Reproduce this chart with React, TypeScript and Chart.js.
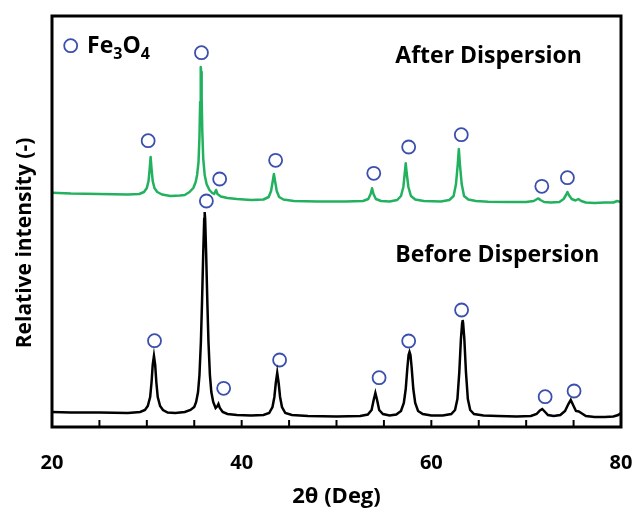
import { useEffect, useRef } from 'react';
import { Chart, registerables } from 'chart.js';

Chart.register(...registerables);

// ---- data: [2θ (deg), intensity (a.u.)] ----
const labeledTicks = [20, 40, 60, 80];

const beforePattern: [number, number][] = [
  [20, 15], [22, 14.5], [25, 14.5], [28, 14], [29.3, 15], [29.8, 17], [30.1, 21], [30.35, 30], [30.5, 45], [30.62, 62], [30.75, 71], [30.88, 62], [31.0, 45], [31.15, 30], [31.4, 21], [31.7, 17], [32.2, 14.5], [33, 14], [34, 15], [34.6, 17],
  [35.0, 20], [35.2, 25], [35.4, 35], [35.55, 52], [35.7, 85], [35.82, 125], [35.95, 175], [36.05, 208], [36.1, 215], [36.15, 208], [36.25, 175], [36.38, 125], [36.5, 85], [36.65, 52], [36.8, 35], [37.0, 25], [37.25, 19], [37.45, 21], [37.55, 23], [37.7, 19], [38.0, 15], [38.5, 13], [39.5, 12], [41, 11.5],
  [42.3, 12], [42.9, 14], [43.25, 20], [43.45, 30], [43.6, 44], [43.75, 54], [43.9, 44], [44.05, 30], [44.25, 20], [44.6, 14], [45.3, 12], [47, 11], [50, 10.5], [52.5, 11],
  [53.3, 12.5], [53.7, 17], [53.92, 27], [54.1, 34], [54.28, 27], [54.5, 17], [54.9, 13], [55.6, 11.5], [56.3, 12.5], [56.8, 16], [57.1, 24], [57.3, 38], [57.48, 60], [57.6, 72], [57.7, 75], [57.8, 72], [57.92, 60], [58.1, 38], [58.3, 24], [58.6, 16], [59.1, 13], [60, 11.5], [61.2, 11.5],
  [62.1, 13], [62.5, 17], [62.75, 28], [62.95, 55], [63.12, 88], [63.25, 104], [63.3, 107], [63.35, 104], [63.48, 88], [63.65, 55], [63.85, 28], [64.1, 17], [64.5, 13], [65.5, 11.5], [67, 11], [69, 10.5], [70.5, 11],
  [71.1, 13], [71.45, 16.5], [71.7, 18], [71.95, 15.5], [72.3, 12], [72.9, 11], [73.6, 12], [74.1, 16], [74.45, 23], [74.7, 27], [74.95, 22], [75.25, 16], [75.55, 15.5], [75.8, 14], [76.3, 11], [77.2, 10], [78.3, 10], [79.2, 10.5], [79.7, 12], [80, 14],
];

const afterPattern: [number, number][] = [
  [20, 234.3], [22, 233.5], [25, 233], [28, 232.5], [29.2, 233], [29.7, 235], [30.0, 239], [30.18, 246], [30.3, 258], [30.4, 270], [30.5, 258], [30.62, 246], [30.8, 239], [31.1, 235], [31.6, 232.5], [32.5, 231], [33.5, 231.5],
  [34.0, 232], [34.5, 235], [34.9, 239], [35.15, 245], [35.3, 252], [35.45, 265], [35.55, 290], [35.62, 325], [35.67, 352], [35.7, 360], [35.73, 355], [35.78, 330], [35.85, 295], [35.95, 268], [36.1, 252], [36.3, 243], [36.6, 237], [36.9, 234], [37.1, 233], [37.3, 237], [37.45, 233], [37.8, 230.5], [38.5, 229], [39.5, 228], [41, 227],
  [42.3, 227.5], [42.85, 230], [43.1, 236], [43.28, 246], [43.4, 253], [43.52, 246], [43.7, 236], [43.95, 230], [44.4, 227.5], [45.5, 226], [48, 225.5], [51, 225.5], [52.8, 226],
  [53.35, 228], [53.6, 233], [53.75, 238.7], [53.9, 233], [54.15, 228], [54.7, 226], [55.6, 225.5], [56.4, 227], [56.8, 231], [57.05, 240], [57.2, 254], [57.3, 263.7], [57.4, 254], [57.58, 240], [57.85, 231], [58.3, 227.5], [59.2, 226], [61, 225.5],
  [61.9, 227], [62.35, 231], [62.6, 243], [62.78, 262], [62.9, 278], [63.02, 262], [63.2, 243], [63.45, 231], [63.9, 227.5], [64.7, 226], [66, 225.3], [68, 225], [70, 225],
  [70.8, 226], [71.15, 228], [71.3, 228.5], [71.5, 227], [71.9, 225], [72.6, 224.5], [73.5, 225], [73.95, 228], [74.2, 232], [74.35, 235], [74.5, 232], [74.8, 228], [75.2, 226.5], [75.5, 228], [75.8, 226], [76.3, 224.5], [77.2, 224], [78.3, 224.5], [79.2, 224.5], [79.6, 226], [80, 225],
];

const afterPeakMarks: [number, number][] = [[30.14, 286.3], [35.76, 374.3], [37.68, 248], [43.58, 266.7], [53.93, 253.7], [57.61, 280], [63.16, 292.3], [71.65, 240.7], [74.35, 249.3]];
const beforePeakMarks: [number, number][] = [[30.81, 86.3], [36.28, 226], [38.1, 38.7], [44.0, 67], [54.49, 49.3], [57.61, 86], [63.19, 117], [72.0, 30.3], [75.05, 36]];
const legendMark: [number, number][] = [[21.97, 381.3]];

const seriesLabels = ['After Dispersion', 'Before Dispersion'];
const xTitle = '2θ (Deg)';
const yTitle = 'Relative intensity (-)';

const FONT = '"Open Sans"';
const GREEN = '#22B15E';
const BLUE = '#3A4FAE';

const toPts = (arr: [number, number][]) => arr.map(([x, y]) => ({ x, y }));

const decorPlugin = {
  id: 'decor',
  afterDraw(chart: any) {
    const { ctx, chartArea: a, scales } = chart;
    const xs = scales.x;
    const ys = scales.y;
    ctx.save();
    // frame
    ctx.strokeStyle = '#000';
    ctx.lineWidth = 3;
    ctx.strokeRect(a.left, a.top, a.right - a.left, a.bottom - a.top);
    // inward ticks
    ctx.lineWidth = 2;
    xs.ticks.forEach((t: any) => {
      const px = xs.getPixelForValue(t.value);
      ctx.beginPath();
      ctx.moveTo(px, a.bottom);
      ctx.lineTo(px, a.bottom - 7);
      ctx.stroke();
    });
    // tick labels and x title
    ctx.fillStyle = '#000';
    ctx.textAlign = 'center';
    ctx.textBaseline = 'middle';
    ctx.font = `bold 20px ${FONT}`;
    labeledTicks.forEach((v) => {
      ctx.fillText(String(v), xs.getPixelForValue(v), a.bottom + 36);
    });
    ctx.font = `bold 22px ${FONT}`;
    ctx.fillText(xTitle, (a.left + a.right) / 2, a.bottom + 70);
    // y title
    ctx.font = `bold 21px ${FONT}`;
    ctx.translate(25, 243);
    ctx.rotate(-Math.PI / 2);
    ctx.fillText(yTitle, 0, 0);
    ctx.restore();

    ctx.save();
    ctx.fillStyle = '#000';
    ctx.textAlign = 'left';
    ctx.textBaseline = 'alphabetic';
    ctx.font = `bold 23px ${FONT}`;
    ctx.fillText(seriesLabels[0], xs.getPixelForValue(56.2), ys.getPixelForValue(363.7));
    ctx.fillText(seriesLabels[1], xs.getPixelForValue(56.2), ys.getPixelForValue(165));
    // Fe3O4 legend text with subscripts
    let px = xs.getPixelForValue(23.7);
    const base = ys.getPixelForValue(373.7);
    const parts: [string, boolean][] = [['Fe', false], ['3', true], ['O', false], ['4', true]];
    parts.forEach(([s, sub]) => {
      ctx.font = sub ? `bold 16px ${FONT}` : `bold 23px ${FONT}`;
      ctx.fillText(s, px, sub ? base + 6 : base);
      px += ctx.measureText(s).width;
    });
    ctx.restore();
  },
};

export default function App() {
  const ref = useRef<HTMLCanvasElement>(null);
  useEffect(() => {
    if (!ref.current) return;
    const markerStyle = {
      type: 'scatter' as const,
      showLine: false,
      pointRadius: 6.5,
      pointHoverRadius: 6.5,
      pointBorderWidth: 1.8,
      pointBorderColor: BLUE,
      pointBackgroundColor: 'rgba(255,255,255,0)',
      pointStyle: 'circle',
    };
    const chart = new Chart(ref.current, {
      type: 'scatter',
      data: {
        datasets: [
          { label: seriesLabels[1], data: toPts(beforePattern), showLine: true, borderColor: '#000', borderWidth: 2.5, pointRadius: 0, tension: 0 } as any,
          { label: seriesLabels[0], data: toPts(afterPattern), showLine: true, borderColor: GREEN, borderWidth: 2.5, pointRadius: 0, tension: 0, borderJoinStyle: 'round' } as any,
          { ...markerStyle, label: 'after peaks', data: toPts(afterPeakMarks) } as any,
          { ...markerStyle, label: 'before peaks', data: toPts(beforePeakMarks) } as any,
          { ...markerStyle, label: 'Fe3O4', data: toPts(legendMark) } as any,
        ],
      },
      options: {
        animation: false,
        responsive: true,
        maintainAspectRatio: false,
        layout: { padding: { left: 52, right: 15, top: 16, bottom: 84 } },
        plugins: { legend: { display: false }, tooltip: { enabled: false } },
        scales: {
          x: {
            type: 'linear',
            min: 20,
            max: 80,
            grid: { display: false, drawTicks: false },
            border: { display: false },
            ticks: { stepSize: 5, autoSkip: false, display: false },
            title: { display: false },
          },
          y: { type: 'linear', min: 0, max: 411, display: false },
        },
      },
      plugins: [decorPlugin],
    });
    return () => chart.destroy();
  }, []);
  return (
    <div style={{ position: 'absolute', left: 0, top: 0, width: 636, height: 511, background: '#fff' }}>
      <canvas ref={ref} />
    </div>
  );
}
